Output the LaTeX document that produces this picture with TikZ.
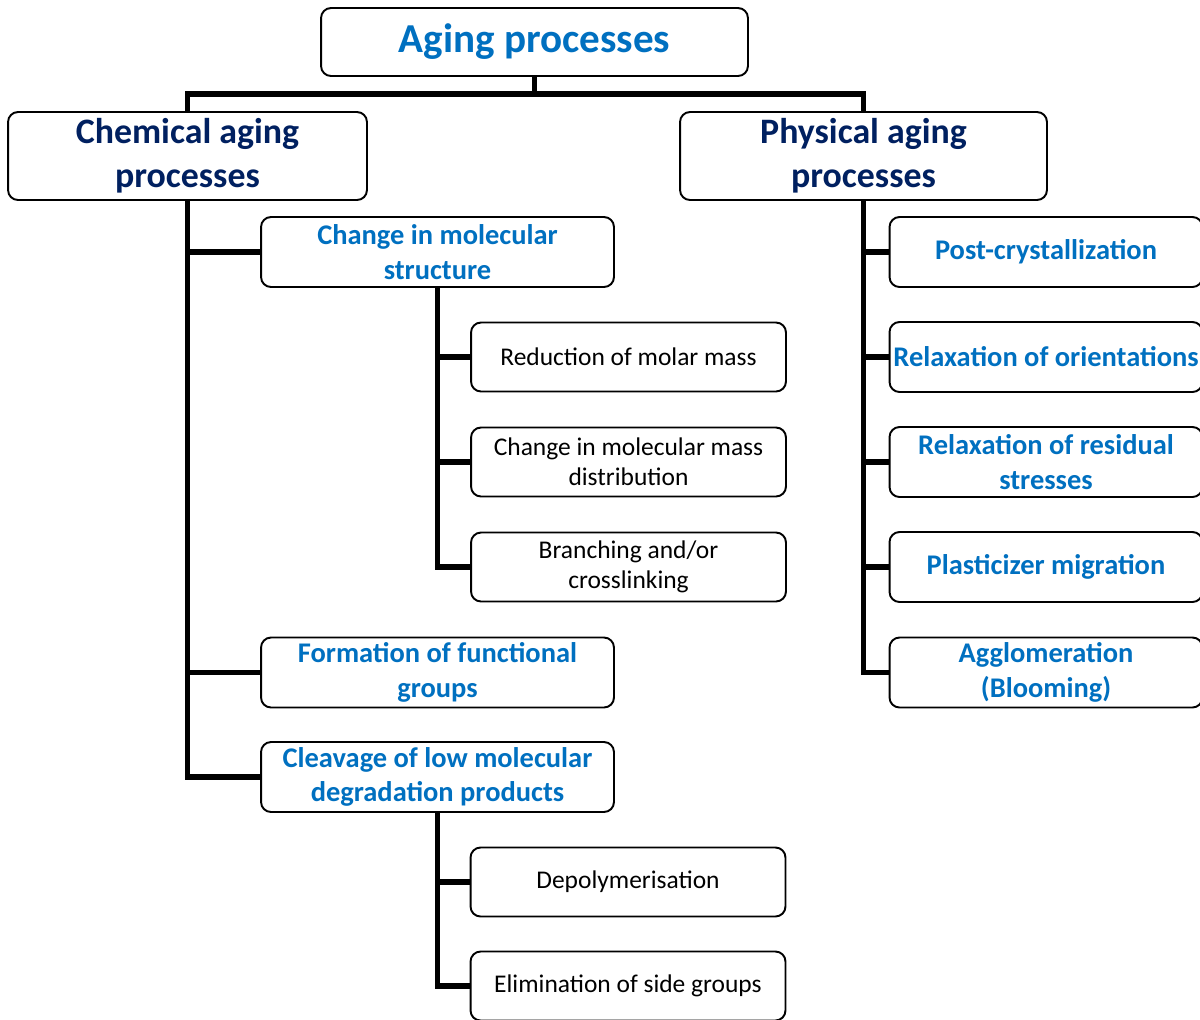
\documentclass[tikz,border=0pt]{standalone}
\usepackage{fontspec}
\setmainfont{Carlito}
\definecolor{agingblue}{HTML}{0070C0}
\definecolor{agingnavy}{HTML}{002060}
\tikzset{
  box/.style={draw, line width=1.1pt, rounded corners=0.2cm, fill=white, align=center, inner sep=0pt},
  topbox/.style={box, minimum width=8.54cm, minimum height=1.36cm, text=agingblue, font=\bfseries\fontsize{23.4}{28}\selectfont},
  mainbox/.style={box, minimum width=7.18cm, minimum height=1.76cm, text=agingnavy, font=\bfseries\fontsize{20.4}{25}\selectfont},
  subbox/.style={box, minimum width=7.06cm, minimum height=1.4cm, text=agingblue, font=\bfseries\fontsize{16.2}{19.5}\selectfont},
  physbox/.style={subbox, minimum width=6.26cm},
  leafbox/.style={box, minimum width=6.3cm, minimum height=1.38cm, font=\fontsize{14.5}{17}\selectfont},
  link/.style={line width=3.3pt}
}
\begin{document}
\begin{tikzpicture}[x=0.02cm,y=-0.02cm]
  \useasboundingbox (0,0) rectangle (1200,1019);

  \node[topbox] (aging) at (534.5,42) {Aging processes};

  \node[mainbox] (chem) at (187.5,156) {Chemical aging\\processes};
  \node[mainbox, minimum width=7.34cm] (phys) at (863.5,156) {Physical aging\\processes};

  % chemical side
  \node[subbox] (molstruct) at (437.5,252) {Change in molecular\\structure};
  \node[leafbox] (molar) at (628.5,357) {Reduction of molar mass};
  \node[leafbox] (massdist) at (628.5,462) {Change in molecular mass\\distribution};
  \node[leafbox] (branch) at (628.5,567) {Branching and/or\\crosslinking};
  \node[subbox] (funcgroups) at (437.5,672.5) {Formation of functional\\groups};
  \node[subbox] (cleavage) at (437.5,777) {Cleavage of low molecular\\degradation products};
  \node[leafbox] (depoly) at (628,882) {Depolymerisation};
  \node[leafbox] (sidegroups) at (628,986) {Elimination of side groups};

  % physical side
  \node[physbox] (postcryst) at (1046,252) {Post-crystallization};
  \node[physbox] (orient) at (1046,357) {Relaxation of orientations};
  \node[physbox] (stresses) at (1046,462) {Relaxation of residual\\stresses};
  \node[physbox] (plastic) at (1046,567) {Plasticizer migration};
  \node[physbox] (bloom) at (1046,672.5) {Agglomeration\\(Blooming)};

  \coordinate (bus) at (534.5,94);
  \draw[link] (aging.south) -- (bus) -| (chem.north);
  \draw[link] (bus) -| (phys.north);

  \foreach \n in {molstruct,funcgroups,cleavage}
    \draw[link] (chem.south) |- (\n.west);
  \foreach \n in {molar,massdist,branch}
    \draw[link] (molstruct.south) |- (\n.west);
  \foreach \n in {depoly,sidegroups}
    \draw[link] (cleavage.south) |- (\n.west);
  \foreach \n in {postcryst,orient,stresses,plastic,bloom}
    \draw[link] (phys.south) |- (\n.west);
\end{tikzpicture}
\end{document}
